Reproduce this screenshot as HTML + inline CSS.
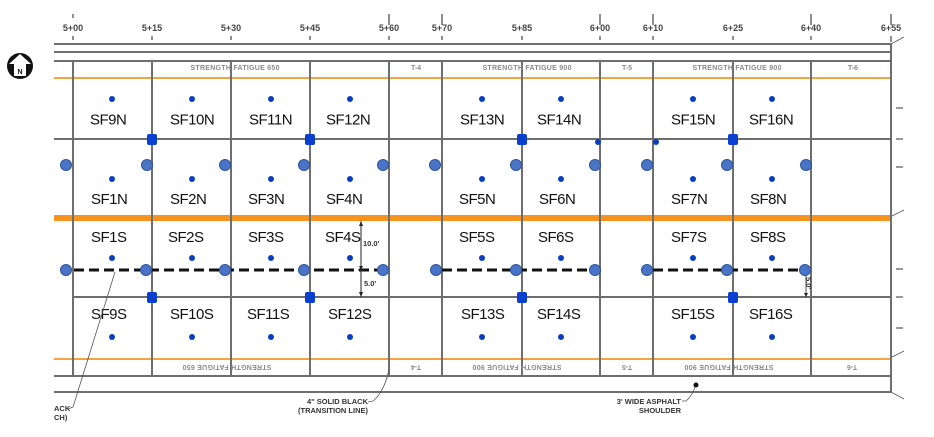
<!DOCTYPE html>
<html><head><meta charset="utf-8"><style>
html,body{margin:0;padding:0;background:#fff;}
svg{display:block;}
.rl{font-family:"Liberation Sans",sans-serif;font-weight:bold;font-size:9px;fill:#444;text-anchor:middle;}
.hd{font-family:"Liberation Sans",sans-serif;font-weight:bold;font-size:7px;fill:#8a8a8a;text-anchor:middle;}
.sf{font-family:"Liberation Sans",sans-serif;font-size:15px;fill:#111;letter-spacing:-0.5px;}
.an{font-family:"Liberation Sans",sans-serif;font-weight:bold;font-size:7.5px;fill:#333;}
</style></head><body>
<svg width="934" height="437" viewBox="0 0 934 437" xmlns="http://www.w3.org/2000/svg">
<rect width="934" height="437" fill="#fff"/>
<!-- ruler labels and ticks -->
<g stroke="#444" stroke-width="1.2">
<line x1="73" y1="14" x2="73" y2="18"/><line x1="73" y1="36" x2="73" y2="40"/>
<line x1="152" y1="36" x2="152" y2="40"/>
<line x1="231" y1="36" x2="231" y2="40"/>
<line x1="310" y1="36" x2="310" y2="40"/>
<line x1="389" y1="14" x2="389" y2="25"/><line x1="389" y1="36" x2="389" y2="40"/>
<line x1="442" y1="14" x2="442" y2="25"/><line x1="442" y1="36" x2="442" y2="40"/>
<line x1="522" y1="36" x2="522" y2="40"/>
<line x1="600" y1="14" x2="600" y2="25"/><line x1="600" y1="36" x2="600" y2="40"/>
<line x1="653" y1="14" x2="653" y2="25"/><line x1="653" y1="36" x2="653" y2="40"/>
<line x1="733" y1="36" x2="733" y2="40"/>
<line x1="811" y1="14" x2="811" y2="25"/><line x1="811" y1="36" x2="811" y2="40"/>
<line x1="891" y1="14" x2="891" y2="25"/><line x1="891" y1="36" x2="891" y2="42"/>
</g>
<text class="rl" x="73" y="31">5+00</text>
<text class="rl" x="152" y="31">5+15</text>
<text class="rl" x="231" y="31">5+30</text>
<text class="rl" x="310" y="31">5+45</text>
<text class="rl" x="389" y="31">5+60</text>
<text class="rl" x="442" y="31">5+70</text>
<text class="rl" x="522" y="31">5+85</text>
<text class="rl" x="600" y="31">6+00</text>
<text class="rl" x="653" y="31">6+10</text>
<text class="rl" x="733" y="31">6+25</text>
<text class="rl" x="811" y="31">6+40</text>
<text class="rl" x="891" y="31">6+55</text>

<!-- north arrow -->
<circle cx="20" cy="66" r="13" fill="#111"/>
<polygon points="20,54 31,64 26,64 26,76 14,76 14,64 9,64" fill="#fff"/>
<text x="20" y="74" font-family="Liberation Sans,sans-serif" font-weight="bold" font-size="7" fill="#111" text-anchor="middle">N</text>

<!-- orange lines -->
<line x1="54" y1="78" x2="891" y2="78" stroke="#f4a340" stroke-width="2"/>
<line x1="54" y1="218" x2="891" y2="218" stroke="#f7931e" stroke-width="6"/>
<line x1="54" y1="359" x2="891" y2="359" stroke="#f4a340" stroke-width="2"/>

<!-- horizontal grid lines -->
<g stroke="#6e6e6e" stroke-width="2">
<line x1="54" y1="44" x2="891" y2="44"/>
<line x1="54" y1="52" x2="891" y2="52"/>
<line x1="54" y1="61" x2="891" y2="61"/>
<line x1="54" y1="139" x2="891" y2="139"/>
<line x1="73" y1="297" x2="891" y2="297"/>
<line x1="54" y1="376" x2="891" y2="376"/>
<line x1="54" y1="392" x2="891" y2="392"/>
<!-- vertical -->
<line x1="73" y1="61" x2="73" y2="376"/>
<line x1="152" y1="61" x2="152" y2="376"/>
<line x1="231" y1="61" x2="231" y2="376"/>
<line x1="310" y1="61" x2="310" y2="376"/>
<line x1="389" y1="61" x2="389" y2="376"/>
<line x1="442" y1="61" x2="442" y2="376"/>
<line x1="522" y1="61" x2="522" y2="376"/>
<line x1="600" y1="61" x2="600" y2="376"/>
<line x1="653" y1="61" x2="653" y2="376"/>
<line x1="733" y1="61" x2="733" y2="376"/>
<line x1="811" y1="61" x2="811" y2="376"/>
<line x1="891" y1="44" x2="891" y2="392"/>
</g>

<!-- right side marks -->
<g stroke="#555" stroke-width="1.2">
<line x1="896" y1="108" x2="903" y2="108"/>
<line x1="896" y1="139" x2="903" y2="139"/>
<line x1="896" y1="167" x2="903" y2="167"/>
<line x1="896" y1="269" x2="903" y2="269"/>
<line x1="896" y1="297" x2="903" y2="297"/>
<line x1="896" y1="328" x2="903" y2="328"/>
<line x1="891" y1="44" x2="904" y2="37" stroke-width="0.8"/>
<line x1="892" y1="216" x2="904" y2="210" stroke-width="0.8"/>
<line x1="892" y1="357" x2="904" y2="351" stroke-width="0.8"/>
<line x1="891" y1="392" x2="904" y2="399" stroke-width="0.8"/>
</g>

<!-- header texts -->
<text class="hd" x="235" y="70" textLength="89">STRENGTH FATIGUE 650</text>
<text class="hd" x="416" y="70">T-4</text>
<text class="hd" x="527" y="70" textLength="89">STRENGTH FATIGUE 900</text>
<text class="hd" x="627" y="70">T-5</text>
<text class="hd" x="737" y="70" textLength="89">STRENGTH FATIGUE 900</text>
<text class="hd" x="853" y="70">T-6</text>
<!-- upside-down bottom texts -->
<g transform="rotate(180 227 368)"><text class="hd" x="227" y="371" textLength="89">STRENGTH FATIGUE 650</text></g>
<g transform="rotate(180 416 368)"><text class="hd" x="416" y="371">T-4</text></g>
<g transform="rotate(180 517 368)"><text class="hd" x="517" y="371" textLength="89">STRENGTH FATIGUE 900</text></g>
<g transform="rotate(180 627 368)"><text class="hd" x="627" y="371">T-5</text></g>
<g transform="rotate(180 729 368)"><text class="hd" x="729" y="371" textLength="89">STRENGTH FATIGUE 900</text></g>
<g transform="rotate(180 852 368)"><text class="hd" x="852" y="371">T-6</text></g>

<!-- dashed lines -->
<g stroke="#111" stroke-width="3" stroke-dasharray="10,5">
<line x1="74" y1="270" x2="383" y2="270"/>
<line x1="442" y1="270" x2="595" y2="270"/>
<line x1="653" y1="270" x2="806" y2="270"/>
</g>

<!-- dimension 10.0 / 5.0 -->
<g stroke="#222" stroke-width="1">
<line x1="361" y1="221" x2="361" y2="297"/>
<line x1="358" y1="270" x2="364" y2="270"/>
</g>
<polygon points="361,221 359,226 363,226" fill="#222"/>
<polygon points="361,297 359,292 363,292" fill="#222"/>
<polygon points="361,270 359,266 363,266" fill="#222"/>
<text class="an" x="363" y="246" font-size="7">10.0'</text>
<text class="an" x="364" y="286" font-size="7">5.0'</text>
<!-- small 5.0 near 6+40 -->
<line x1="806" y1="275" x2="806" y2="297" stroke="#222" stroke-width="0.8"/>
<polygon points="806,297 804,293 808,293" fill="#222"/>
<g transform="rotate(90 809 284)"><text class="an" x="802" y="287" font-size="6.5" fill="#666">5.0'</text></g>

<!-- big circles -->
<g fill="#4a74c8" stroke="#2e5597" stroke-width="1">
<circle cx="66" cy="165" r="5.5"/><circle cx="147" cy="165" r="5.5"/><circle cx="225" cy="165" r="5.5"/><circle cx="304" cy="165" r="5.5"/><circle cx="383" cy="165" r="5.5"/><circle cx="435" cy="165" r="5.5"/><circle cx="516" cy="165" r="5.5"/><circle cx="595" cy="165" r="5.5"/><circle cx="647" cy="165" r="5.5"/><circle cx="727" cy="165" r="5.5"/><circle cx="806" cy="165" r="5.5"/>
<circle cx="66" cy="270" r="5.5"/><circle cx="146" cy="270" r="5.5"/><circle cx="225" cy="270" r="5.5"/><circle cx="304" cy="270" r="5.5"/><circle cx="383" cy="270" r="5.5"/><circle cx="436" cy="270" r="5.5"/><circle cx="516" cy="270" r="5.5"/><circle cx="595" cy="270" r="5.5"/><circle cx="647" cy="270" r="5.5"/><circle cx="727" cy="270" r="5.5"/><circle cx="805" cy="270" r="5.5"/>
</g>

<!-- squares -->
<g fill="#0b3fd0">
<rect x="147" y="134" width="10" height="11" rx="2"/><rect x="305" y="134" width="10" height="11" rx="2"/><rect x="517" y="134" width="10" height="11" rx="2"/><rect x="728" y="134" width="10" height="11" rx="2"/>
<rect x="147" y="292" width="10" height="11" rx="2"/><rect x="305" y="292" width="10" height="11" rx="2"/><rect x="517" y="292" width="10" height="11" rx="2"/><rect x="728" y="292" width="10" height="11" rx="2"/>
</g>

<!-- small dots -->
<g fill="#0a3ec2">
<circle cx="112" cy="99" r="3"/><circle cx="192" cy="99" r="3"/><circle cx="271" cy="99" r="3"/><circle cx="350" cy="99" r="3"/><circle cx="482" cy="99" r="3"/><circle cx="561" cy="99" r="3"/><circle cx="693" cy="99" r="3"/><circle cx="772" cy="99" r="3"/>
<circle cx="112" cy="179" r="3"/><circle cx="192" cy="179" r="3"/><circle cx="271" cy="179" r="3"/><circle cx="350" cy="179" r="3"/><circle cx="482" cy="179" r="3"/><circle cx="561" cy="179" r="3"/><circle cx="693" cy="179" r="3"/><circle cx="772" cy="179" r="3"/>
<circle cx="112" cy="258" r="3"/><circle cx="192" cy="258" r="3"/><circle cx="271" cy="258" r="3"/><circle cx="350" cy="258" r="3"/><circle cx="482" cy="258" r="3"/><circle cx="561" cy="258" r="3"/><circle cx="693" cy="258" r="3"/><circle cx="772" cy="258" r="3"/>
<circle cx="112" cy="337" r="3"/><circle cx="192" cy="337" r="3"/><circle cx="271" cy="337" r="3"/><circle cx="350" cy="337" r="3"/><circle cx="482" cy="337" r="3"/><circle cx="561" cy="337" r="3"/><circle cx="693" cy="337" r="3"/><circle cx="772" cy="337" r="3"/>
<circle cx="598" cy="142" r="3"/><circle cx="656" cy="142" r="3"/>
</g>

<!-- SF labels -->
<text class="sf" x="90" y="124.5">SF9N</text>
<text class="sf" x="170" y="124.5">SF10N</text>
<text class="sf" x="249" y="124.5">SF11N</text>
<text class="sf" x="326" y="124.5">SF12N</text>
<text class="sf" x="460" y="124.5">SF13N</text>
<text class="sf" x="537" y="124.5">SF14N</text>
<text class="sf" x="671" y="124.5">SF15N</text>
<text class="sf" x="749" y="124.5">SF16N</text>

<text class="sf" x="91" y="204">SF1N</text>
<text class="sf" x="170" y="204">SF2N</text>
<text class="sf" x="248" y="204">SF3N</text>
<text class="sf" x="326" y="204">SF4N</text>
<text class="sf" x="459" y="204">SF5N</text>
<text class="sf" x="539" y="204">SF6N</text>
<text class="sf" x="671" y="204">SF7N</text>
<text class="sf" x="750" y="204">SF8N</text>

<text class="sf" x="91" y="242">SF1S</text>
<text class="sf" x="168" y="242">SF2S</text>
<text class="sf" x="248" y="242">SF3S</text>
<text class="sf" x="325" y="242">SF4S</text>
<text class="sf" x="459" y="242">SF5S</text>
<text class="sf" x="538" y="242">SF6S</text>
<text class="sf" x="671" y="242">SF7S</text>
<text class="sf" x="750" y="242">SF8S</text>

<text class="sf" x="91" y="319">SF9S</text>
<text class="sf" x="170" y="319">SF10S</text>
<text class="sf" x="247" y="319">SF11S</text>
<text class="sf" x="328" y="319">SF12S</text>
<text class="sf" x="461" y="319">SF13S</text>
<text class="sf" x="537" y="319">SF14S</text>
<text class="sf" x="671" y="319">SF15S</text>
<text class="sf" x="749" y="319">SF16S</text>

<!-- leaders and annotations -->
<g stroke="#555" stroke-width="0.8" fill="none">
<path d="M115,272 L73,407 L68,409"/>
<path d="M389,370 Q384,392 373,401 L368,402"/>
<path d="M696,385 Q692,396 686,401 L682,401"/>
</g>
<circle cx="696" cy="385" r="2.5" fill="#111"/>
<text class="an" x="54" y="411">ACK</text>
<text class="an" x="54" y="420">CH)</text>
<text class="an" x="368" y="404" text-anchor="end">4" SOLID BLACK</text>
<text class="an" x="368" y="413" text-anchor="end">(TRANSITION LINE)</text>
<text class="an" x="681" y="404" text-anchor="end">3' WIDE ASPHALT</text>
<text class="an" x="681" y="413" text-anchor="end">SHOULDER</text>
</svg>
</body></html>
